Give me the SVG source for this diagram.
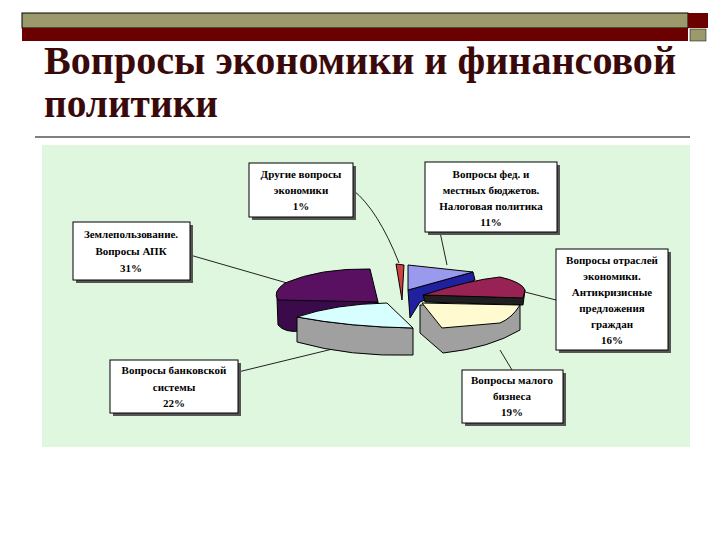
<svg xmlns="http://www.w3.org/2000/svg" width="720" height="540" viewBox="0 0 720 540">
<style>
.t{font-family:"Liberation Serif",serif;font-weight:bold;fill:#3a0a0a;font-size:40px}
.lb{font-family:"Liberation Serif",serif;font-size:11px;font-weight:bold;fill:#000;text-anchor:middle}
.bx{fill:#fff;stroke:#000;stroke-width:1}
.sh{fill:#555}
.ln{fill:none;stroke:#222;stroke-width:1}
.e{stroke:#000;stroke-width:1}
</style>
<rect width="720" height="540" fill="#fff"/>
<rect x="22" y="13" width="666" height="15" fill="#9c9a6c" stroke="#000" stroke-width="1"/>
<rect x="22" y="28" width="666" height="13" fill="#6a0000"/>
<rect x="688" y="13" width="20" height="15" fill="#6a0000"/>
<rect x="690" y="29" width="16" height="12" fill="#9c9a6c" stroke="#000" stroke-width="0.5"/>
<text class="t" x="44" y="74" textLength="632" lengthAdjust="spacingAndGlyphs">Вопросы экономики и финансовой</text>
<text class="t" x="44" y="117" textLength="174" lengthAdjust="spacingAndGlyphs">политики</text>
<line x1="35" y1="137" x2="690" y2="137" stroke="#000" stroke-width="1"/>
<rect x="42" y="145" width="648" height="302" fill="#dff7de"/>
<g id="connectors">
<path class="ln" d="M353,190 Q378,210 399,263"/>
<path class="ln" d="M440,232 L447,265"/>
<path class="ln" d="M190,255 L287,283"/>
<path class="ln" d="M556,300 L525,292"/>
<path class="ln" d="M238,372 L345,346"/>
<path class="ln" d="M512,370 L500,350"/>
</g>
<g id="pie">
<path class="e" fill="#3a0a4a" d="M277,298 L278,325 Q285,333 300,331 L380,330 L378,302 Z"/>
<path class="e" fill="#5a1060" d="M378,302 L370,269 Q320,268 285,283 Q272,292 278,300 Z"/>
<path class="e" fill="#a0a0a0" d="M297,317 L297,342 Q350,357 413,355 L413,328 Q350,327 297,317 Z"/>
<path class="e" fill="#d8ffff" d="M297,317 Q335,304 387,303 L413,328 Q350,327 297,317 Z"/>
<path class="e" fill="#d04040" d="M396,264 L404,265 L402,300 Z"/>
<path class="e" fill="#2020a0" d="M408,290 L473,272 L475,280 L420,302 L410,318 Z"/>
<path class="e" fill="#9999ee" d="M408,265 L473,272 L408,290 Z"/>
<path class="e" fill="#202020" d="M423,295 L525,290 L523,305 L425,302 Z"/>
<path class="e" fill="#992255" d="M423,295 Q470,280 500,277 Q522,282 525,290 L523,298 Z"/>
<path class="e" fill="#a0a0a0" d="M420,305 L420,333 L443,353 Q490,348 520,330 L520,305 Z"/>
<path class="e" fill="#fffad0" d="M422,303 L520,305 Q512,318 500,323 L442,328 Z"/>
</g>
<g id="n1"><rect class="sh" x="252" y="166" width="104" height="54"/><rect class="bx" x="249" y="163" width="104" height="54"/>
<text class="lb" x="301" y="178">Другие вопросы</text><text class="lb" x="301" y="194">экономики</text><text class="lb" x="301" y="210">1%</text></g>
<g id="n2"><rect class="sh" x="428" y="165" width="132" height="70"/><rect class="bx" x="425" y="162" width="132" height="70"/>
<text class="lb" x="491" y="178">Вопросы фед. и</text><text class="lb" x="491" y="194">местных бюджетов.</text><text class="lb" x="491" y="210">Налоговая политика</text><text class="lb" x="491" y="226">11%</text></g>
<g id="n3"><rect class="sh" x="76" y="225" width="117" height="58"/><rect class="bx" x="73" y="222" width="117" height="58"/>
<text class="lb" x="131" y="238">Землепользование.</text><text class="lb" x="131" y="255">Вопросы АПК</text><text class="lb" x="131" y="272">31%</text></g>
<g id="n4"><rect class="sh" x="559" y="252" width="112" height="101"/><rect class="bx" x="556" y="249" width="112" height="101"/>
<text class="lb" x="612" y="264">Вопросы отраслей</text><text class="lb" x="612" y="280">экономики.</text><text class="lb" x="612" y="296">Антикризисные</text><text class="lb" x="612" y="312">предложения</text><text class="lb" x="612" y="328">граждан</text><text class="lb" x="612" y="344">16%</text></g>
<g id="n5"><rect class="sh" x="113" y="363" width="128" height="53"/><rect class="bx" x="110" y="360" width="128" height="53"/>
<text class="lb" x="174" y="374">Вопросы банковской</text><text class="lb" x="174" y="391">системы</text><text class="lb" x="174" y="407">22%</text></g>
<g id="n6"><rect class="sh" x="465" y="373" width="101" height="53"/><rect class="bx" x="462" y="370" width="101" height="53"/>
<text class="lb" x="512" y="384">Вопросы малого</text><text class="lb" x="512" y="400">бизнеса</text><text class="lb" x="512" y="416">19%</text></g>
</svg>
